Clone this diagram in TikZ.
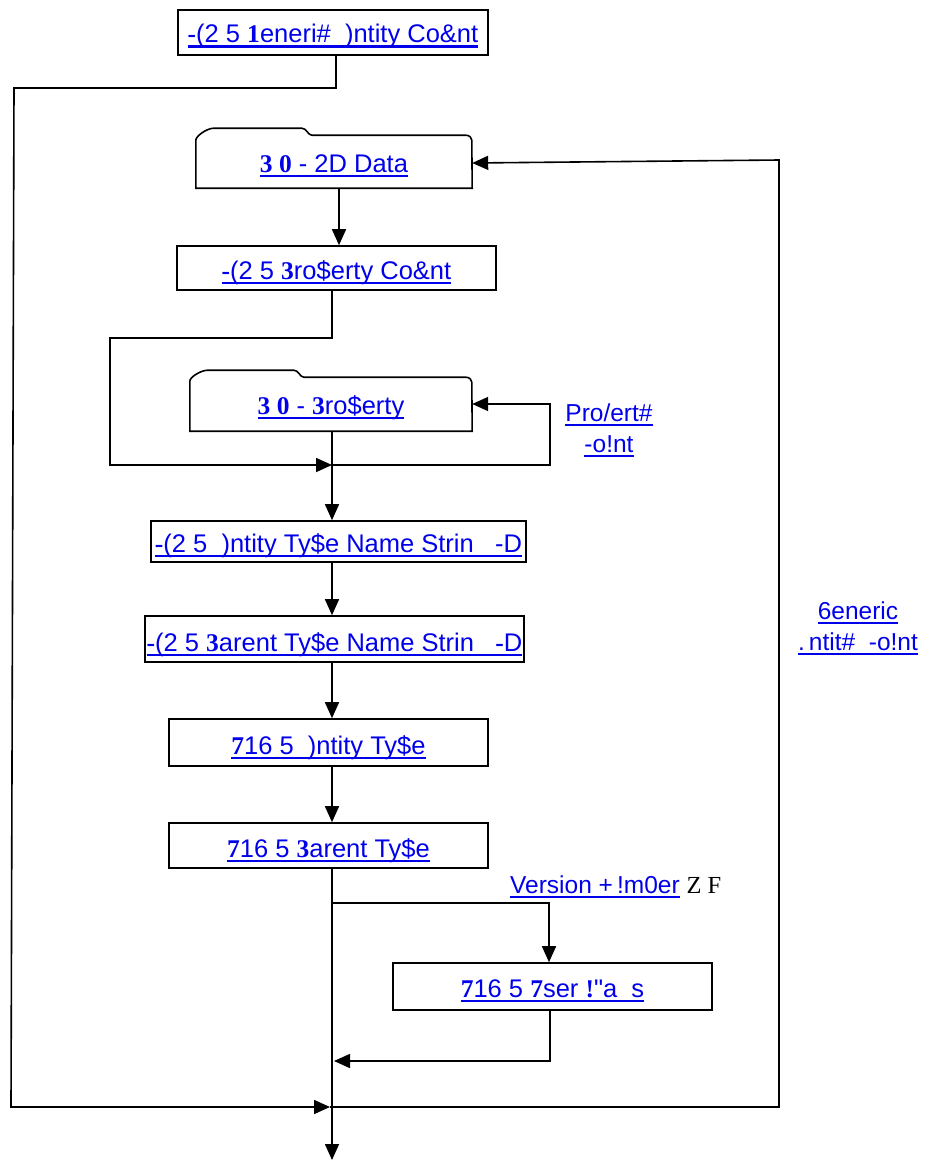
\documentclass[tikz,border=0pt]{standalone}
\usepackage{fontspec}
\setmainfont{Liberation Sans}
\newfontfamily\serifface{Liberation Serif}
\newfontfamily\plainsans{Liberation Sans}
\usetikzlibrary{arrows.meta}
\definecolor{linkblue}{RGB}{0,0,235}
\newcommand\B[1]{{\serifface\bfseries #1}}
\newcommand\ul[1]{\setbox0=\hbox{#1}\dp0=0pt\vtop{\box0\kern2.5pt\hrule height 2.2pt}}
\newcommand\tx[2][-4.5pt]{\raisebox{#1}[\height][\depth]{\ul{#2}}}
\tikzset{
  box/.style={draw, line width=1.6pt, inner sep=0pt, text=linkblue,
    font=\fontsize{25.5}{30}\selectfont},
  tabbody/.style={inner sep=0pt, text=linkblue, font=\fontsize{25.5}{30}\selectfont},
  lbl/.style={inner sep=0pt, text=linkblue, align=center,
    font=\fontsize{24.5}{31}\selectfont},
  line/.style={line width=1.6pt},
  arr/.style={line width=1.6pt, -{Triangle[length=16pt,width=14pt]}},
}
\begin{document}
\begin{tikzpicture}[x=1pt,y=-1pt]
\useasboundingbox (0,0) rectangle (931,1160);

% boxes
\node[box, minimum width=310, minimum height=45] (b1) at (333,32.5)
  {\tx[-3.5pt]{\B{-}(2 5 \B{1}eneri\#\ \ )ntity Co\&nt}};
\node[tabbody, minimum width=276, minimum height=53] (d1) at (334,161.5)
  {\tx{\B{3 0} - 2D Data}};
\node[box, minimum width=319, minimum height=44] (b3) at (336.5,268)
  {\tx{\B{-}(2 5 \B{3}ro\$erty Co\&nt}};
\node[tabbody, minimum width=282, minimum height=54] (d2) at (331,404)
  {\tx[-3pt]{\B{3 0} - \B{3}ro\$erty}};
\node[box, minimum width=375, minimum height=41] (b5) at (338.5,541.5)
  {\tx[-4pt]{\B{-}(2 5 \ )ntity Ty\$e Name Strin\ \ \ -D}};
\node[box, minimum width=379, minimum height=46] (b6) at (334.5,639)
  {\tx[-5pt]{\B{-}(2 5 \B{3}arent Ty\$e Name Strin\ \ \ \B{-}D}};
\node[box, minimum width=319, minimum height=47] (b7) at (328.5,742.5)
  {\tx[-5pt]{\B{7}16 5 \ )ntity Ty\$e}};
\node[box, minimum width=319, minimum height=45] (b8) at (328.5,845.5)
  {\tx[-5pt]{\B{7}16 5 \B{3}arent Ty\$e}};
\node[box, minimum width=319, minimum height=47] (b9) at (552.5,986.5)
  {\tx{\B{7}16 5 \B{7}ser \B{!}{\plainsans"}a\ \ s}};

% tab outlines
\draw[line] (d1.south west) -- ++(0,-48)
  .. controls +(0,-4) and +(-7,0) .. ++(18,-12) -- ++(88,0)
  .. controls +(5,0) and +(-4,0) .. ++(10,7) -- ++(154,0)
  .. controls +(4,0) and +(0,-2) .. ++(6,5) -- (d1.south east) -- cycle;
\draw[line] (d2.south west) -- ++(0,-50)
  .. controls +(0,-4) and +(-7,0) .. ++(18,-11) -- ++(86,0)
  .. controls +(5,0) and +(-4,0) .. ++(10,7) -- ++(162,0)
  .. controls +(4,0) and +(0,-2) .. ++(6,5) -- (d2.south east) -- cycle;

% labels
\node[lbl] (l1) at (609,430) {\ul{Pro/ert\#}\\\ul{-o!nt}};
\node[lbl] (l2) at (858,628) {\ul{6eneric}\\\ul{.\,ntit\#\ \ -o!nt}};
\node[lbl, anchor=base west] (l3) at (510,893)
  {\ul{Version +\,!m0er} {\color{black}\serifface Z F}};

% junction coordinates
\coordinate (j1) at (332,465);
\coordinate (j2) at (332,903);
\coordinate (j3) at (334,1061);
\coordinate (j4) at (330,1107);
\coordinate (jend) at (332,1160);

% connectors
\draw[arr] ([xshift=3]b1.south) -- (336,88) -- (14,88) -- (11,1107) -- (j4);
\draw[arr] ([xshift=5]d1.south) -- ([xshift=2.5]b3.north);
\draw[arr] ([xshift=-4.5]b3.south) -- (332,338) -- (110,338) -- (110,465) -- (j1);
\draw[arr] ([xshift=1]d2.south) -- ([xshift=-6.5]b5.north);
\draw[arr] (j1) -- (550,465) -- (550,404) -- (d2.east);
\draw[arr] ([xshift=-6.5]b5.south) -- ([xshift=-2.5]b6.north);
\draw[arr] ([xshift=-2.5]b6.south) -- ([xshift=3.5]b7.north);
\draw[arr] ([xshift=3.5]b7.south) -- ([xshift=3.5]b8.north);
\draw[arr] ([xshift=3.5]b8.south) -- (jend);
\draw[arr] (j2) -- (549,903) -- ([xshift=-3.5]b9.north);
\draw[arr] ([xshift=-2.5]b9.south) -- (550,1061) -- (j3);
\draw[arr] (j4) -- (779,1107) -- (779,160) -- ([yshift=-1.5]d1.east);
\end{tikzpicture}
\end{document}
